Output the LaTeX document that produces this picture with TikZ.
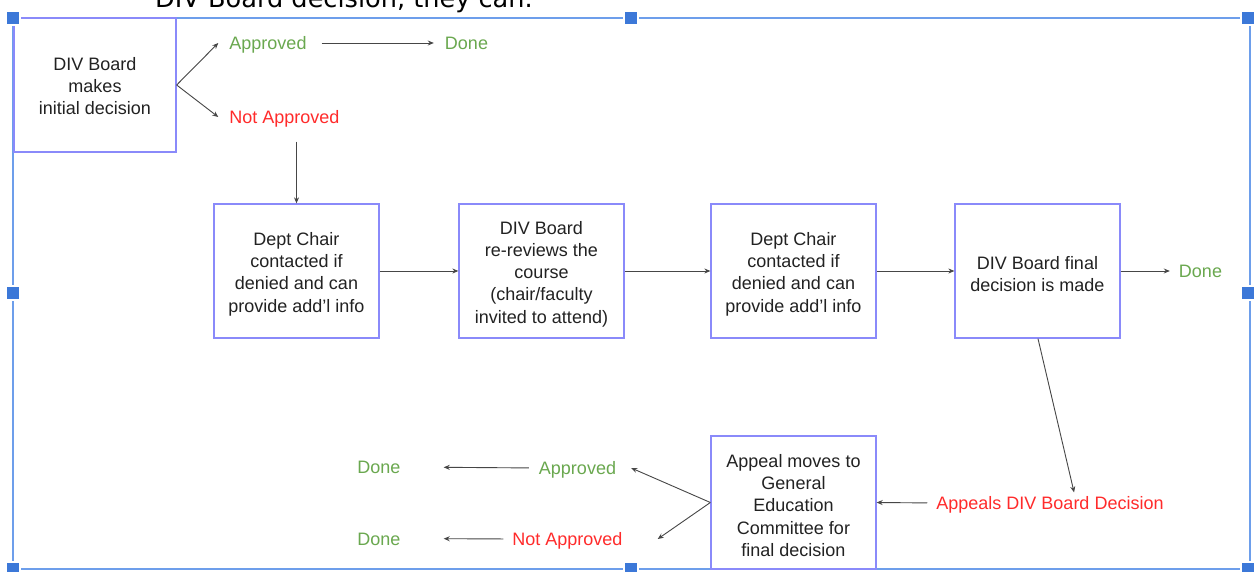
\documentclass[tikz,border=0pt]{standalone}
\usepackage{fontspec}
\setmainfont{Liberation Sans}
\newfontfamily\dejavu{DejaVu Sans}
\usetikzlibrary{arrows.meta}
\definecolor{boxc}{RGB}{138,138,250}
\definecolor{framec}{RGB}{109,158,235}
\definecolor{handlec}{RGB}{60,120,216}
\definecolor{okgreen}{RGB}{106,168,79}
\definecolor{nored}{RGB}{255,43,43}
\definecolor{txt}{RGB}{34,34,34}
\definecolor{linec}{RGB}{70,70,70}
\newcommand{\toppad}{\rule{0pt}{19pt}}
\tikzset{
  stepbox/.style={draw=boxc, line width=1.3pt, fill=white, text=txt, align=center,
    font=\fontsize{18}{22.3}\selectfont, inner sep=0pt},
  lbl/.style={inner sep=0pt, font=\fontsize{18}{22}\selectfont, text height=13pt, text depth=0pt},
  gl/.style={lbl, text=okgreen},
  rl/.style={lbl, text=nored},
  arr/.style={draw=linec, line width=0.9pt, -{Stealth[length=6pt,width=5pt]}},
  handle/.style={fill=handlec, draw=white, line width=1.2pt},
}
\begin{document}
\begin{tikzpicture}[x=1pt,y=-1pt]
\useasboundingbox (0,0) rectangle (1254,572);
\fill[white] (0,0) rectangle (1254,572);
\begin{scope}
\clip (0,0) rectangle (1254,572);
\node[anchor=base west, inner sep=0pt, font=\dejavu\fontsize{25.6}{30}\selectfont, text=black] (top) at (155,8) {DIV Board decision, they can.};
\end{scope}
% selection frame
\draw[framec, line width=2pt] (13,18) rectangle (1250,569);
% boxes
\node[stepbox, minimum width=162pt, minimum height=134pt] (b1) at (95,85) {\rule{0pt}{15pt}DIV Board\\makes\\initial decision};
\node[stepbox, minimum width=165pt, minimum height=134pt] (b2) at (296.5,271) {\toppad Dept Chair\\contacted if\\denied and can\\provide add'l info};
\node[stepbox, minimum width=165pt, minimum height=134pt] (b3) at (541.5,271) {\toppad DIV Board\\re-reviews the\\course\\(chair/faculty\\invited to attend)};
\node[stepbox, minimum width=165pt, minimum height=134pt] (b4) at (793.5,271) {\toppad Dept Chair\\contacted if\\denied and can\\provide add'l info};
\node[stepbox, minimum width=165pt, minimum height=134pt] (b5) at (1037.5,271) {\toppad DIV Board final\\decision is made};
\node[stepbox, minimum width=165pt, minimum height=133pt] (b6) at (793.5,502.5) {\toppad Appeal moves to\\General\\Education\\Committee for\\final decision};
% labels
\node[gl] (appr1) at (268,43) {Approved};
\node[gl] (done1) at (466.5,43) {Done};
\node[rl] (napp1) at (284.5,117) {Not Approved};
\node[gl] (done2) at (1200.5,271) {Done};
\node[rl] (appeal) at (1050,503) {Appeals DIV Board Decision};
\node[gl] (appr2) at (577.5,468) {Approved};
\node[rl] (napp2) at (567.5,539) {Not Approved};
\node[gl] (done3) at (379,467) {Done};
\node[gl] (done4) at (379,538.5) {Done};
% connectors
\draw[arr] (b1.east) -- ([xshift=-11pt]appr1.west);
\draw[arr] (b1.east) -- ([xshift=-11pt]napp1.west);
\draw[arr, shorten <=15pt, shorten >=11pt] (appr1.east) -- (done1.west);
\draw[arr] (napp1.south -| b2.north) ++(0,18) -- (b2.north);
\draw[arr] (b2.east) -- (b3.west);
\draw[arr] (b3.east) -- (b4.west);
\draw[arr] (b4.east) -- (b5.west);
\draw[arr, shorten >=9pt] (b5.east) -- (done2.west);
\draw[arr, shorten >=4pt] ([xshift=0.5pt]b5.south) -- ([xshift=25pt]appeal.north);
\draw[arr, shorten <=9pt] (appeal.west) -- (b6.east);
\draw[arr] (b6.west) -- ([xshift=15pt]appr2.east);
\draw[arr] (b6.west) -- ([xshift=35pt]napp2.east);
\draw[arr, shorten <=10pt, shorten >=43pt] (appr2.west) -- (done3.east);
\draw[arr, shorten <=9pt, shorten >=43pt] (napp2.west) -- (done4.east);
% handles
\foreach \hx/\hy [count=\i] in {13/18, 631/18, 1248/18, 13/293, 1248/293, 13/569, 631/569, 1248/569}
  \path[handle] (\hx-7,\hy-7) rectangle (\hx+7,\hy+7) coordinate (h\i);
\end{tikzpicture}
\end{document}
